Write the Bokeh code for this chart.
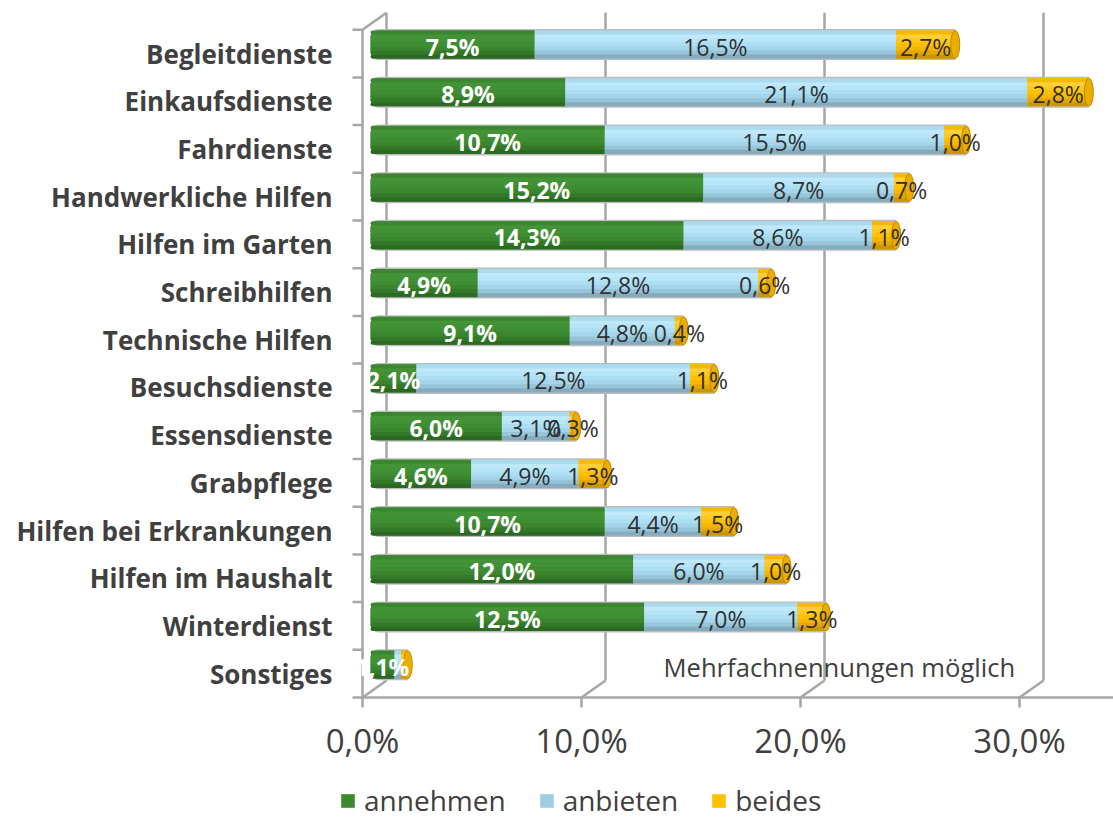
from bokeh.plotting import figure
from bokeh.models import (Range1d, LinearAxis, FixedTicker, ColumnDataSource,
                          Legend, LegendItem, Label)
from bokeh.embed import file_html
from bokeh.resources import INLINE
from bokeh.core.properties import value

# ---------------- data ----------------
categories = ["Begleitdienste", "Einkaufsdienste", "Fahrdienste",
              "Handwerkliche Hilfen", "Hilfen im Garten", "Schreibhilfen",
              "Technische Hilfen", "Besuchsdienste", "Essensdienste",
              "Grabpflege", "Hilfen bei Erkrankungen", "Hilfen im Haushalt",
              "Winterdienst", "Sonstiges"]
annehmen = [7.5, 8.9, 10.7, 15.2, 14.3, 4.9, 9.1, 2.1, 6.0, 4.6, 10.7, 12.0, 12.5, 1.1]
anbieten = [16.5, 21.1, 15.5, 8.7, 8.6, 12.8, 4.8, 12.5, 3.1, 4.9, 4.4, 6.0, 7.0, 0.3]
beides = [2.7, 2.8, 1.0, 0.7, 1.1, 0.6, 0.4, 1.1, 0.3, 1.3, 1.5, 1.0, 1.3, 0.3]
series_names = ["annehmen", "anbieten", "beides"]
x_ticks = [0, 10, 20, 30]
x_tick_labels = ["0,0%", "10,0%", "20,0%", "30,0%"]
hidden_labels = [("Sonstiges", "anbieten"), ("Sonstiges", "beides")]
note_text = "Mehrfachnennungen möglich"

# ---------------- layout / style ----------------
W, H = 1113, 820
LEFT = 300             # frame left edge (px)
LABEL_RIGHT = 332      # right edge of category labels (px)
ORIGIN_PX = 370        # pixel column of 0 % for the bars
FRAME_W = W - LEFT
FLOOR_PX = 697         # pixel row of the front floor edge
PX_X = 21.9            # pixels per percent
PX_Y = 47.7            # pixels per category row
n = len(categories)
x_start = -(ORIGIN_PX - LEFT) / PX_X
x_end = x_start + FRAME_W / PX_X
y_end = FLOOR_PX / PX_Y
y_start = -(H - FLOOR_PX) / PX_Y
dF = -8 / PX_X         # front plane offset
dB = 16 / PX_X         # back plane offset
depth_y = 17 / PX_Y    # back plane vertical offset
bar_dy = 9 / PX_Y      # bars sit mid-depth
bar_h = 28 / PX_Y

GREY = "#a6a6a6"
TXT = "#404040"
FONT = "Open Sans"

legend_colors = {"annehmen": "#3d8a2e", "anbieten": "#9fcde2", "beides": "#ffc000"}
# cylinder shading, top slice to bottom slice
shades = {
    "annehmen": ["#3b8631", "#449437", "#419136", "#3f8d33", "#3b852f", "#347829", "#2c6a23"],
    "anbieten": ["#a9daee", "#bfe9fa", "#b7e5f8", "#addff4", "#a4d5ea", "#96c4d8", "#85acbe"],
    "beides":   ["#f7b900", "#ffcf3a", "#ffc81c", "#ffc000", "#f6b600", "#e4a700", "#cc9600"],
}

p = figure(width=W, height=H, output_backend="svg", toolbar_location=None,
           x_range=Range1d(x_start, x_end), y_range=Range1d(y_start, y_end),
           x_axis_location=None, min_border_left=LEFT, min_border_right=0,
           min_border_top=0, min_border_bottom=0)
p.outline_line_color = None
p.grid.visible = False
p.background_fill_color = "white"

# y axis with category names at front row centres
front_centres = [n - i - 0.5 for i in range(n)]
ya = p.yaxis[0]
ya.ticker = FixedTicker(ticks=front_centres)
ya.major_label_overrides = {c: cat for c, cat in zip(front_centres, categories)}
ya.axis_line_color = None
ya.major_tick_out = 0
ya.major_tick_in = 0
ya.minor_tick_out = 0
ya.minor_tick_in = 0
ya.major_label_standoff = LEFT - LABEL_RIGHT
ya.major_label_text_font = FONT
ya.major_label_text_font_style = "bold"
ya.major_label_text_font_size = "26px"
ya.major_label_text_color = TXT

# x axis on the front plane, fixed at the floor edge
p.extra_x_ranges = {"front": Range1d(x_start - dF, x_end - dF)}
xa = LinearAxis(x_range_name="front", ticker=FixedTicker(ticks=x_ticks),
                major_label_overrides=dict(zip(x_ticks, x_tick_labels)),
                fixed_location=0)
xa.axis_line_color = None
xa.major_tick_out = 10
xa.major_tick_in = 0
xa.minor_tick_out = 0
xa.minor_tick_in = 0
xa.major_tick_line_color = GREY
xa.major_tick_line_width = 2.5
xa.major_label_standoff = 10
xa.major_label_text_font = FONT
xa.major_label_text_font_size = "33px"
xa.major_label_text_color = TXT
p.add_layout(xa, "below")

# 3D frame lines
seg = dict(x0=[], y0=[], x1=[], y1=[])
def add(x0, y0, x1, y1):
    seg["x0"].append(x0); seg["y0"].append(y0)
    seg["x1"].append(x1); seg["y1"].append(y1)
for v in x_ticks:
    add(v + dB, depth_y, v + dB, n + depth_y)     # back gridlines / back wall
    add(v + dF, 0, v + dB, depth_y)               # floor diagonals
add(dF, n, dB, n + depth_y)                       # top-left diagonal
add(dF, 0, dF, n)                                 # front-left wall edge
add(dF, 0, x_end, 0)                              # front floor edge
for k in range(n + 1):
    add(dF - 10 / PX_X, k, dF, k)                 # category ticks
p.segment(x0="x0", y0="y0", x1="x1", y1="y1", source=ColumnDataSource(seg),
          line_color=GREY, line_width=2.5)

# bars
bar_y = [c + bar_dy for c in front_centres]
totals = [a + b + c for a, b, c in zip(annehmen, anbieten, beides)]
p.hbar(y=bar_y, left=0, right=totals, height=bar_h + 3 / PX_Y,
       fill_color="#bcbcbc", line_color=None, border_radius=(8, 0, 0, 8))

vals = {"annehmen": annehmen, "anbieten": anbieten, "beides": beides}
lefts = [0.0] * n
base_renderers = {}
for s in series_names:
    v = vals[s]
    rights = [l + x for l, x in zip(lefts, v)]
    br = (7, 0, 0, 7) if s == "annehmen" else 0
    r = p.hbar(y=bar_y, left=lefts, right=rights, height=bar_h,
               fill_color=legend_colors[s], line_color=None, border_radius=br)
    base_renderers[s] = r
    cols = shades[s]
    k = len(cols)
    sh = bar_h / k
    for j, col in enumerate(cols):
        yy = [y + bar_h / 2 - sh * (j + 0.5) for y in bar_y]
        p.hbar(y=yy, left=lefts, right=rights, height=sh * 1.04,
               fill_color=col, line_color=None, border_radius=br)
    lefts = rights

# cylinder end caps
p.ellipse(x=totals, y=bar_y, width=9, height=bar_h, width_units="screen",
          fill_color="#eaad00", line_color="#c08a00", line_width=1)

# data labels
def fmt(x):
    return f"{x:.1f}%".replace(".", ",")

lefts = [0.0] * n
for s in series_names:
    v = vals[s]
    xs, ys, ts = [], [], []
    for i in range(n):
        if (categories[i], s) not in hidden_labels:
            xs.append(lefts[i] + v[i] / 2)
            ys.append(bar_y[i])
            ts.append(fmt(v[i]))
    lefts = [l + x for l, x in zip(lefts, v)]
    if s == "annehmen":
        p.text(x=xs, y=ys, text=ts, text_font=value(FONT), text_font_style="bold",
               text_font_size="23px", text_color="white", text_align="center",
               text_baseline="middle", y_offset=2)
    else:
        p.text(x=xs, y=ys, text=ts, text_font=value(FONT),
               text_font_size="23px", text_color="#303030", text_align="center",
               text_baseline="middle", y_offset=2)

# note
p.add_layout(Label(x=13.38, y=0.63, text=note_text, text_font=FONT,
                   text_font_size="25.6px", text_color=TXT, text_baseline="middle"))

# legend
legend = Legend(items=[LegendItem(label=s, renderers=[base_renderers[s]]) for s in series_names],
                orientation="horizontal", location=(39, 1),
                label_text_font=FONT, label_text_font_size="28px",
                label_text_color=TXT, glyph_width=17, glyph_height=17,
                spacing=32, label_standoff=8, padding=0, margin=0,
                border_line_color=None, background_fill_alpha=0)
p.add_layout(legend)

open("out.html", "w").write(file_html(p, INLINE))
